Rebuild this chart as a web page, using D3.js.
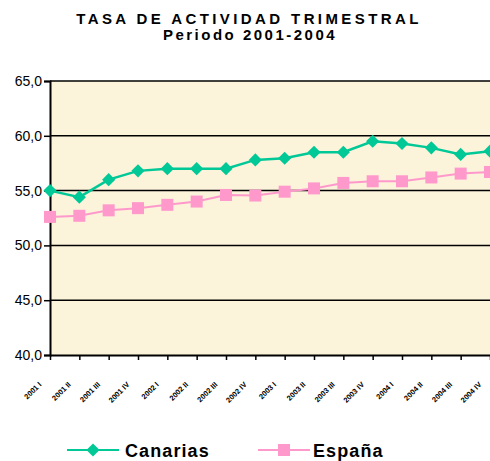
<!DOCTYPE html>
<html>
<head>
<meta charset="utf-8">
<script src="https://cdn.jsdelivr.net/npm/d3@7"></script>
<style>
  body { margin: 0; background: #fff; }
  svg { display: block; font-family: Arial, "Liberation Sans", sans-serif; }
</style>
</head>
<body>
<svg width="490" height="461"></svg>
<script>
// quarters 2001-2004
const quarters = ["2001 I", "2001 II", "2001 III", "2001 IV",
                  "2002 I", "2002 II", "2002 III", "2002 IV",
                  "2003 I", "2003 II", "2003 III", "2003 IV",
                  "2004 I", "2004 II", "2004 III", "2004 IV"];

const canarias = [55.0, 54.4, 56.0, 56.8, 57.0, 57.0, 57.0, 57.8,
                  57.95, 58.5, 58.5, 59.5, 59.3, 58.9, 58.3, 58.6];
const espana   = [52.6, 52.7, 53.2, 53.4, 53.7, 54.0, 54.6, 54.55,
                  54.9, 55.2, 55.7, 55.85, 55.85, 56.2, 56.55, 56.7];

const yTicks = [40, 45, 50, 55, 60, 65];

const color_can = "#00c896";
const color_esp = "#ff99cc";

let svg = d3.select("svg");

let x = d3.scalePoint().domain(quarters).range([50, 490]);
let y = d3.scaleLinear().domain([40, 65]).range([355, 81]);

// plot area background
svg.append("rect")
  .attr("x", 50).attr("y", y(65))
  .attr("width", 460).attr("height", y(40) - y(65))
  .attr("fill", "#fcf3db");

// gridlines
svg.append("g")
  .selectAll("line")
  .data(yTicks.slice(1))
  .enter().append("line")
    .attr("x1", 50).attr("x2", 490)
    .attr("y1", d => y(d)).attr("y2", d => y(d))
    .attr("stroke", "#000")
    .attr("stroke-width", 1.5);

// y axis
let yAxis = d3.axisLeft(y)
  .tickValues(yTicks)
  .tickSize(6)
  .tickFormat(d => d3.format(".1f")(d).replace(".", ","));

svg.append("g")
  .attr("transform", "translate(50,0)")
  .call(yAxis)
  .call(g => g.select(".domain").attr("stroke-width", 2))
  .call(g => g.selectAll(".tick line").attr("stroke-width", 1.5))
  .call(g => g.selectAll("text")
              .attr("font-size", 14)
              .attr("font-family", "Arial, 'Liberation Sans', sans-serif")
              .attr("fill", "#000")
              .attr("x", -8));

// x axis (ticks only, labels drawn below)
let xAxis = d3.axisBottom(x).tickSize(5).tickSizeOuter(0).tickFormat("");

svg.append("g")
  .attr("transform", "translate(0," + y(40) + ")")
  .call(xAxis)
  .call(g => g.select(".domain").attr("stroke-width", 2))
  .call(g => g.selectAll(".tick line").attr("stroke-width", 1.5));

// slanted category labels
svg.append("g")
  .selectAll("text")
  .data(quarters)
  .enter().append("text")
    .attr("transform", d => "translate(" + (x(d) - 8) + "," + (y(40) + 30) + ") rotate(-45)")
    .attr("text-anchor", "end")
    .attr("font-size", 7.5)
    .attr("font-weight", "bold")
    .text(d => d);

// lines
let line = d3.line()
  .x((d, i) => x(quarters[i]))
  .y(d => y(d));

svg.append("path")
  .datum(espana)
  .attr("d", line)
  .attr("fill", "none")
  .attr("stroke", color_esp)
  .attr("stroke-width", 2);

svg.append("path")
  .datum(canarias)
  .attr("d", line)
  .attr("fill", "none")
  .attr("stroke", color_can)
  .attr("stroke-width", 2.5);

// markers
svg.append("g")
  .selectAll("rect")
  .data(espana)
  .enter().append("rect")
    .attr("x", (d, i) => x(quarters[i]) - 6)
    .attr("y", d => y(d) - 6)
    .attr("width", 12).attr("height", 12)
    .attr("fill", color_esp);

let diamond = d3.symbol().type(d3.symbolDiamond2).size(110);

svg.append("g")
  .selectAll("path")
  .data(canarias)
  .enter().append("path")
    .attr("d", diamond)
    .attr("transform", (d, i) => "translate(" + x(quarters[i]) + "," + y(d) + ")")
    .attr("fill", color_can);

// title
svg.append("text")
  .attr("x", 249).attr("y", 24)
  .attr("text-anchor", "middle")
  .attr("font-size", 15).attr("font-weight", "bold")
  .attr("letter-spacing", 3.4)
  .text("TASA DE ACTIVIDAD TRIMESTRAL");

svg.append("text")
  .attr("x", 250).attr("y", 40)
  .attr("text-anchor", "middle")
  .attr("font-size", 15).attr("font-weight", "bold")
  .attr("letter-spacing", 2.5)
  .text("Periodo 2001-2004");

// legend
let legend = svg.append("g").attr("class", "legend");

let legend_items = [
  { name: "Canarias", color: color_can, x: 67, tx: 58, shape: "diamond" },
  { name: "España", color: color_esp, x: 258, tx: 55, shape: "square" }
];

legend_items.forEach(function(item) {
  let g = legend.append("g").attr("transform", "translate(" + item.x + ",450)");
  g.append("line")
    .attr("x1", 0).attr("x2", 52)
    .attr("stroke", item.color).attr("stroke-width", 2);
  if (item.shape === "diamond") {
    g.append("path").attr("d", diamond).attr("transform", "translate(26,0)").attr("fill", item.color);
  } else {
    g.append("rect").attr("x", 20).attr("y", -6).attr("width", 12).attr("height", 12).attr("fill", item.color);
  }
  g.append("text")
    .attr("x", item.tx).attr("y", 7)
    .attr("font-size", 18).attr("font-weight", "bold")
    .attr("letter-spacing", 1.1)
    .text(item.name);
});
</script>
</body>
</html>
